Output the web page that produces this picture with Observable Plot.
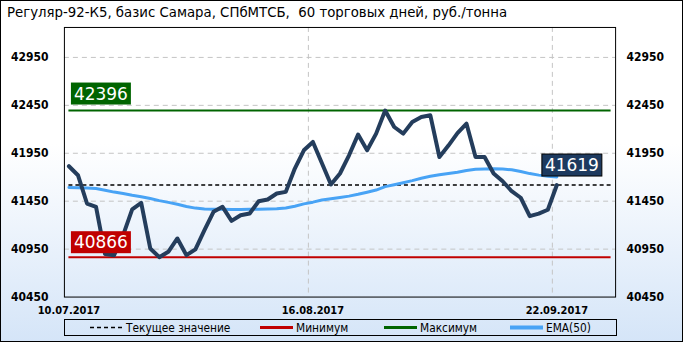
<!DOCTYPE html>
<html><head><meta charset="utf-8">
<script src="https://cdn.jsdelivr.net/npm/d3@7"></script>
<script src="https://cdn.jsdelivr.net/npm/@observablehq/plot@0.6"></script>
<style>
html,body{margin:0;padding:0;background:#fff;}
#chart{position:relative;width:683px;height:342px;box-sizing:border-box;border:1px solid #000;
 background:linear-gradient(to bottom,#ffffff 0%,#ffffff 42%,#d5e5f8 100%);overflow:hidden;
 font-family:"DejaVu Sans Condensed","DejaVu Sans",sans-serif;}
#title{position:absolute;left:6px;top:4px;font-family:"DejaVu Sans",sans-serif;font-size:13.3px;color:#000;white-space:pre;line-height:16px;}
#plot{position:absolute;left:-1px;top:-1px;}
#legend{position:absolute;left:63px;top:318px;width:553px;height:17px;box-sizing:border-box;border:1px solid #000;}
.li{position:absolute;top:0;height:15px;display:flex;align-items:center;font-size:11.8px;white-space:nowrap;color:#000;}
.li svg{margin-right:3px;}
</style></head>
<body>
<div id="chart">
  <div id="plot"></div>
  <div id="title"></div>
  <div id="legend"></div>
</div>
<script>
const titleText = "Регуляр-92-К5, базис Самара, СПбМТСБ,  60 торговых дней, руб./тонна";
const windowDays = 60;
const dateLabels = ["10.07.2017", "16.08.2017", "22.09.2017"];
const dateTickIdx = [0, 27, 54];
const yTicks = [40450, 40950, 41450, 41950, 42450, 42950];
const price = [41815, 41721, 41426, 41391, 40898, 40887, 41096, 41364, 41432, 40957,
  40866, 40922, 41061, 40887, 40947, 41148, 41339, 41391, 41245, 41304,
  41322, 41450, 41468, 41530, 41547, 41791, 41981, 42068, 41846, 41624,
  41739, 41929, 42145, 41981, 42155, 42396, 42224, 42155, 42276, 42328,
  42346, 41911, 42030, 42160, 42259, 41911, 41911, 41739, 41658, 41554,
  41486, 41294, 41320, 41361, 41619];
const ema50 = [41593, 41590, 41587, 41582, 41565, 41545, 41530, 41512, 41497, 41478,
  41456, 41438, 41418, 41395, 41378, 41368, 41366, 41365, 41364, 41364,
  41365, 41366, 41368, 41372, 41380, 41398, 41422, 41440, 41462, 41476,
  41489, 41503, 41522, 41544, 41566, 41602, 41622, 41643, 41665, 41690,
  41710, 41726, 41740, 41752, 41770, 41783, 41786, 41788, 41785, 41778,
  41760, 41738, 41722, 41710, 41703];
const legendItems = ["Текущее значение", "Минимум", "Максимум", "EMA(50)"];

const priceRows = price.map((v, i) => ({i, v}));
const emaRows = ema50.map((v, i) => ({i, v}));
const minVal = d3.min(price), maxVal = d3.max(price), current = price[price.length - 1];

const C = {price: "#243d5c", ema: "#48a3f5", min: "#c00000", max: "#006400", cur: "#000", grid: "#c4c4c4", curBox: "#1d3a5f"};

document.getElementById("title").textContent = titleText;

const chart = Plot.plot({
  width: 683, height: 318,
  marginTop: 27, marginBottom: 21, marginLeft: 64, marginRight: 67,
  x: {domain: [-0.5, windowDays + 0.5], axis: null},
  y: {domain: [40450, 43262.5], axis: null},
  style: "background: transparent; overflow: visible; font-family: 'DejaVu Sans Condensed', 'DejaVu Sans', sans-serif;",
  marks: [
    Plot.ruleY(yTicks.slice(1), {stroke: C.grid, strokeDasharray: "5,4"}),
    Plot.ruleX(dateTickIdx.slice(1).map(i => i - 0.5), {stroke: C.grid, strokeDasharray: "5,4"}),
    Plot.frame({stroke: "#000"}),
    Plot.ruleY([maxVal], {x1: 0, x2: windowDays, stroke: C.max, strokeWidth: 2}),
    Plot.ruleY([minVal], {x1: 0, x2: windowDays, stroke: C.min, strokeWidth: 2}),
    Plot.ruleY([current], {x1: 0, x2: windowDays, stroke: C.cur, strokeWidth: 1.5, strokeDasharray: "4,3"}),
    Plot.line(emaRows, {x: "i", y: "v", stroke: C.ema, strokeWidth: 3}),
    Plot.line(priceRows, {x: "i", y: "v", stroke: C.price, strokeWidth: 4, strokeLinejoin: "round"}),
    Plot.text(yTicks, {y: d => d, text: d => String(d), frameAnchor: "left", textAnchor: "end", dx: -16, lineAnchor: "middle", fontWeight: "bold", fontSize: 12, fill: "#000"}),
    Plot.text(yTicks, {y: d => d, text: d => String(d), frameAnchor: "right", textAnchor: "start", dx: 11, lineAnchor: "middle", fontWeight: "bold", fontSize: 12, fill: "#000"}),
    Plot.text(dateTickIdx, {x: d => d, text: (d, i) => dateLabels[i], frameAnchor: "bottom", dy: 13, lineAnchor: "middle", fontWeight: "bold", fontSize: 11, fill: "#000"}),
    Plot.text([maxVal], {x: () => 0, y: d => d, text: d => String(d), ariaLabel: () => "max-label", fill: "#fff", fontFamily: "DejaVu Sans", fontSize: 17, textAnchor: "start", lineAnchor: "bottom", dx: 5, dy: -11}),
    Plot.text([minVal], {x: () => 0, y: d => d, text: d => String(d), ariaLabel: () => "min-label", fill: "#fff", fontFamily: "DejaVu Sans", fontSize: 17, textAnchor: "start", lineAnchor: "bottom", dx: 5, dy: -9}),
    Plot.text([current], {x: () => price.length - 1, y: d => d, text: d => String(d), ariaLabel: () => "cur-label", fill: "#fff", fontFamily: "DejaVu Sans", fontSize: 17, textAnchor: "start", lineAnchor: "bottom", dx: -12, dy: -14})
  ]
});
document.getElementById("plot").append(chart);

for (const [lab, fill, stroke] of [["max-label", C.max, null], ["min-label", C.min, null], ["cur-label", C.curBox, "#000"]]) {
  const els = chart.querySelectorAll(`[aria-label="${lab}"]`);
  els.forEach(el => {
    const texts = el.tagName.toLowerCase() === "text" ? [el] : Array.from(el.querySelectorAll("text"));
    texts.forEach(t => {
      const b = t.getBBox();
      const r = document.createElementNS("http://www.w3.org/2000/svg", "rect");
      r.setAttribute("x", b.x - 3);
      r.setAttribute("y", b.y - 1);
      r.setAttribute("width", b.width + 6);
      r.setAttribute("height", b.height + 2);
      if (t.getAttribute("transform")) r.setAttribute("transform", t.getAttribute("transform"));
      r.setAttribute("fill", fill);
      if (stroke) { r.setAttribute("stroke", stroke); r.setAttribute("stroke-width", 1); }
      t.parentNode.insertBefore(r, t);
    });
  });
}

// legend
const legend = document.getElementById("legend");
const swatches = [
  {color: C.cur, w: 1.5, dash: "4,3"},
  {color: C.min, w: 3, dash: null},
  {color: C.max, w: 3, dash: null},
  {color: C.ema, w: 4, dash: null}
];
const legendLeft = [25, 195, 319, 445];
legendItems.forEach((name, k) => {
  const s = swatches[k];
  const d = document.createElement("div");
  d.className = "li";
  d.style.left = legendLeft[k] + "px";
  d.innerHTML = `<svg width="33" height="15"><line x1="0" x2="33" y1="7.5" y2="7.5" stroke="${s.color}" stroke-width="${s.w}" ${s.dash ? `stroke-dasharray="${s.dash}"` : ""}/></svg><span>${name}</span>`;
  legend.append(d);
});
</script>
</body></html>
